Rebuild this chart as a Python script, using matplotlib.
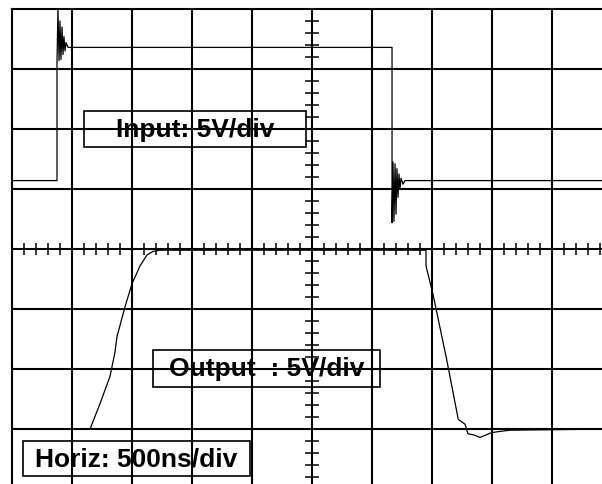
import matplotlib.pyplot as plt
from matplotlib.patches import Rectangle

# scope settings: 500 ns/div horizontally, 5 V/div vertically, 10 x 8 divisions
ns_per_div = 500
volts_per_div = 5

# input trace (screen volts, with its channel offset)
input_t = [0, 375, 375, 383, 392, 400, 408, 417, 425, 433, 442, 450, 467,
           3167, 3167, 3175, 3183, 3192, 3200, 3208, 3217, 3225, 3233, 3242,
           3258, 3275, 5000]
input_v = [5.7, 5.7, 15.6, 20.0, 15.7, 19.0, 15.8, 18.5, 16.2, 17.7, 16.5, 17.2, 16.8,
           16.8, 2.2, 7.25, 2.3, 7.1, 2.9, 6.7, 4.3, 6.25, 5.0, 5.9,
           5.4, 5.7, 5.7]

# output trace
output_t = [0, 650, 733, 817, 858, 875, 942, 1000, 1067, 1125, 1175, 1233,
            3450, 3450, 3511, 3622, 3719, 3775, 3800, 3850, 3900, 3950, 3997,
            4067, 4150, 5000]
output_v = [-15.0, -15.0, -12.9, -10.6, -8.6, -7.3, -4.8, -2.9, -1.4, -0.5, -0.2, -0.1,
            -0.1, -1.4, -3.9, -9.2, -14.2, -14.6, -15.4, -15.5, -15.7, -15.5, -15.3,
            -15.2, -15.1, -15.0]

# label boxes: text, (t0, t1), (v0, v1)
labels = ["Input: 5V/div", "Output  : 5V/div", "Horiz: 500ns/div"]
label_t = [(600, 2450), (1175, 3067), (92, 1983)]
label_v = [(8.5, 11.5), (-11.5, -8.4), (-18.9, -16.0)]

fig = plt.figure(figsize=(6.02, 4.85), dpi=100)
# the graticule runs a little past the right and bottom edges of the picture
ax = fig.add_axes([12 / 602, -5 / 485, 600 / 602, 480 / 485])
x_max = 10 * ns_per_div
y_half = 4 * volts_per_div
ax.set_xlim(0, x_max)
ax.set_ylim(-y_half, y_half)
ax.set_xticks([])
ax.set_yticks([])
for s in ax.spines.values():
    s.set_linewidth(1.5)

# graticule
for i in range(1, 10):
    ax.axvline(i * ns_per_div, color='black', lw=1.5, zorder=1)
for j in range(1, 8):
    ax.axhline(-y_half + j * volts_per_div, color='black', lw=1.5, zorder=1)

# minor ticks on the centre lines
minor_x = [k * ns_per_div / 5 for k in range(51)]
minor_y = [-y_half + k * volts_per_div / 5 for k in range(41)]
ax.vlines(minor_x, -0.5, 0.5, color='black', lw=1.1, zorder=1)
ax.hlines(minor_y, x_max / 2 - 55, x_max / 2 + 55, color='black', lw=1.1, zorder=1)

# traces
ax.plot(input_t, input_v, color='black', lw=0.9, zorder=3)
ax.plot(output_t, output_v, color='black', lw=0.9, zorder=3)

# label boxes
for text, (t0, t1), (v0, v1) in zip(labels, label_t, label_v):
    ax.add_patch(Rectangle((t0, v0), t1 - t0, v1 - v0, fill=False,
                           edgecolor='black', lw=1.2, zorder=4))
    ax.text((t0 + t1) / 2, (v0 + v1) / 2, text, ha='center', va='center',
            fontsize=19, fontweight='bold', family='Liberation Sans', zorder=5)

fig.savefig('out.png', dpi=100)
